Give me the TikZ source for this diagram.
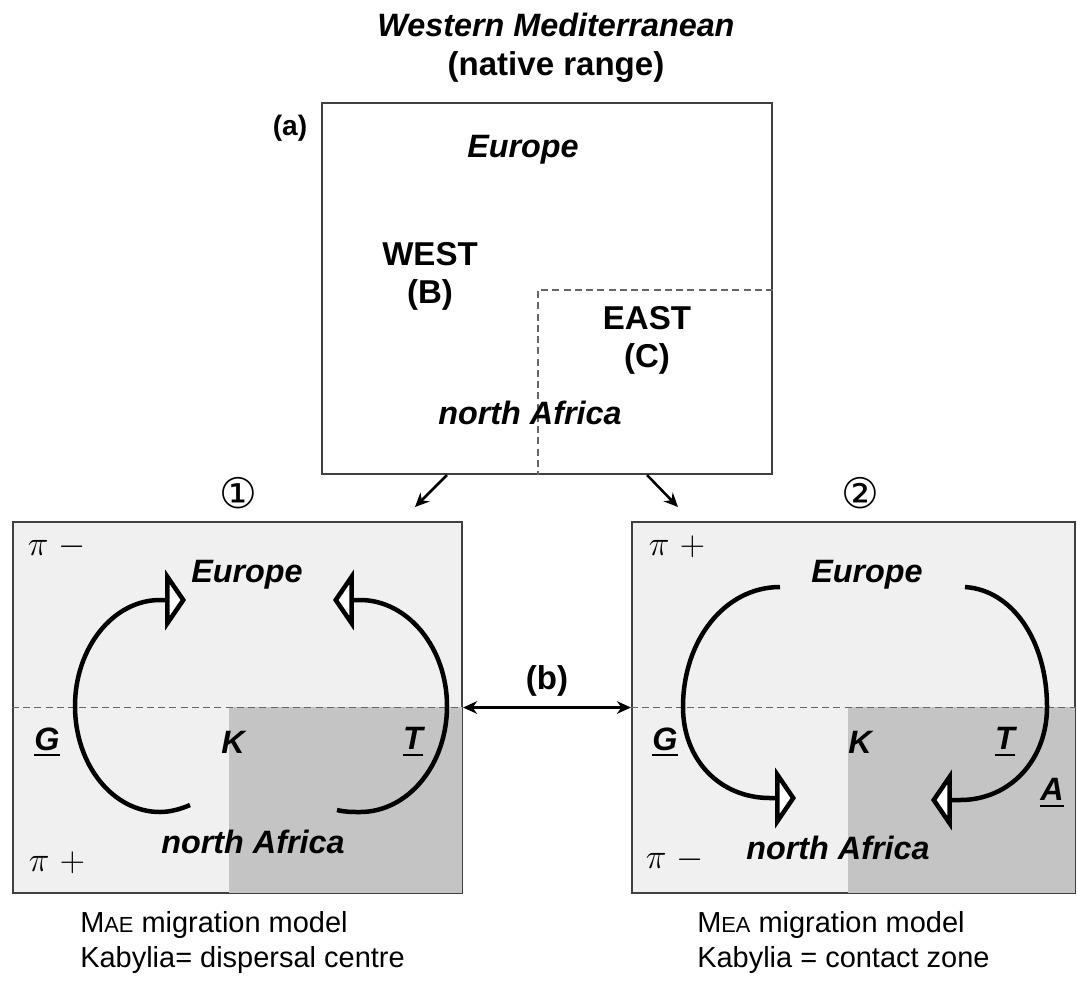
\documentclass[tikz,border=0pt]{standalone}
\usepackage{fontspec}
\setmainfont{Liberation Sans}
\newfontfamily\circfont{DejaVu Sans}
\usetikzlibrary{arrows.meta}
\definecolor{paneledge}{gray}{0.25}
\definecolor{lightfill}{gray}{0.94}
\definecolor{darkfill}{gray}{0.77}
\newcommand\markul[1]{\setbox0\hbox{#1}\rlap{\copy0}\rule[-4.5pt]{\wd0}{1.8pt}}

\begin{document}
\begin{tikzpicture}[x=0.025cm, y=-0.025cm,
    region/.style={font=\fontsize{23}{26}\selectfont\bfseries\itshape},
    zone/.style={font=\fontsize{23.5}{27}\selectfont\bfseries, align=center},
    pilab/.style={font=\fontsize{26}{28}\selectfont},
    caption/.style={font=\fontsize{20.6}{25}\selectfont, align=left, anchor=north west, inner sep=0pt},
    panel/.style={draw=paneledge, line width=1.4pt, fill=lightfill, inner sep=0pt, minimum height=9.275cm},
    flow/.style={line width=3.2pt, -{Triangle[length=0.52cm, width=1.5cm, fill=white]}},
    arr/.style={line width=1.8pt, -{Stealth[length=10pt, width=9pt]}},
    divide/.style={draw=paneledge!80, dash pattern=on 5pt off 3pt, line width=1pt},
]
  \useasboundingbox (0,0) rectangle (1077,982);

  % === native range (a) ===
  \node[region] (title) at (556,25) {Western Mediterranean};
  \node[zone] (native) at (556,67) {(native range)};
  \node[draw=paneledge, line width=1.4pt, inner sep=0pt, minimum width=11.25cm, minimum height=9.275cm] (map) at (547,288.5) {};
  \node[zone, font=\fontsize{20}{24}\selectfont\bfseries] (lab_a) at (290,128) {(a)};
  \coordinate (split) at (538,290);
  \draw[divide] (split -| map.east) -- (split) -- (split |- map.south);
  \node[region] (eu_top) at (523,150) {Europe};
  \node[zone] (west) at (430,276) {WEST\\(B)};
  \node[zone] (east) at (647,340) {EAST\\(C)};
  \node[region] (af_top) at (530,413) {north Africa};

  % === MAE panel ===
  \node[panel, minimum width=11.225cm] (mae) at (237.5,707.5) {};
  \fill[darkfill] (229,707) rectangle ([shift={(-0.7pt,0.7pt)}]mae.south east);
  \draw[divide] (mae.west) -- (mae.east);
  \node[font=\fontsize{30}{32}\circfont] (one) at (238,493) {①};
  \node[pilab] (pi_l1) at (57,547) {$\pi\ -$};
  \node[pilab] (pi_l2) at (57,863) {$\pi\ +$};
  \node[region] (eu_l) at (247,575) {Europe};
  \node[region] (af_l) at (253,842) {north Africa};
  \node[region] (g_l) at (47,742) {\markul{G}};
  \node[region] (k_l) at (233,742) {K};
  \node[region] (t_l) at (413,742) {\markul{T}};
  \draw[flow] (190,805) .. controls (181,809) and (170,812) .. (160,812)
    .. controls (113,812) and (75,765) .. (75,706)
    .. controls (75,648) and (113,600) .. (160,600) -- (186,600);
  \draw[flow] (337,810) .. controls (345,812) and (352,812) .. (360,812)
    .. controls (408,812) and (447,765) .. (447,706)
    .. controls (447,648) and (408,600) .. (360,600) -- (333,600);

  % === MEA panel ===
  \node[panel, minimum width=11.075cm] (mea) at (853.5,707.5) {};
  \fill[darkfill] (848,707) rectangle ([shift={(-0.7pt,0.7pt)}]mea.south east);
  \draw[divide] (mea.west) -- (mea.east);
  \node[font=\fontsize{30}{32}\circfont] (two) at (860,493) {②};
  \node[pilab] (pi_r1) at (677,547) {$\pi\ +$};
  \node[pilab] (pi_r2) at (675,860) {$\pi\ -$};
  \node[region] (eu_r) at (867,575) {Europe};
  \node[region] (af_r) at (838,848) {north Africa};
  \node[region] (g_r) at (665,742) {\markul{G}};
  \node[region] (k_r) at (860,742) {K};
  \node[region] (t_r) at (1005,742) {\markul{T}};
  \node[region] (a_r) at (1052,793) {\markul{A}};
  \draw[flow] (780,587) .. controls (725,587) and (683,640) .. (683,707)
    .. controls (683,760) and (720,798) .. (770,798) -- (796,798);
  \draw[flow] (965,587) .. controls (1012,590) and (1047,640) .. (1047,707)
    .. controls (1047,760) and (1010,800) .. (960,800) -- (931,800);

  % === links ===
  \coordinate (to_mae) at (415,507);
  \coordinate (to_mea) at (678,507);
  \draw[arr] ([xshift=-2.5cm]map.south) -- (to_mae);
  \draw[arr] ([xshift=2.5cm]map.south) -- (to_mea);
  \draw[arr, {Stealth[length=10pt, width=9pt]}-{Stealth[length=10pt, width=9pt]}] (mae.east) -- node[zone, above=4pt] (lab_b) {(b)} (mea.west);

  % === captions ===
  \node[caption] (cap_mae) at (80,911) {M{\fontsize{15.5}{18}\selectfont AE} migration model\\Kabylia= dispersal centre};
  \node[caption] (cap_mea) at (697,911) {M{\fontsize{15.5}{18}\selectfont EA} migration model\\Kabylia = contact zone};
\end{tikzpicture}
\end{document}
